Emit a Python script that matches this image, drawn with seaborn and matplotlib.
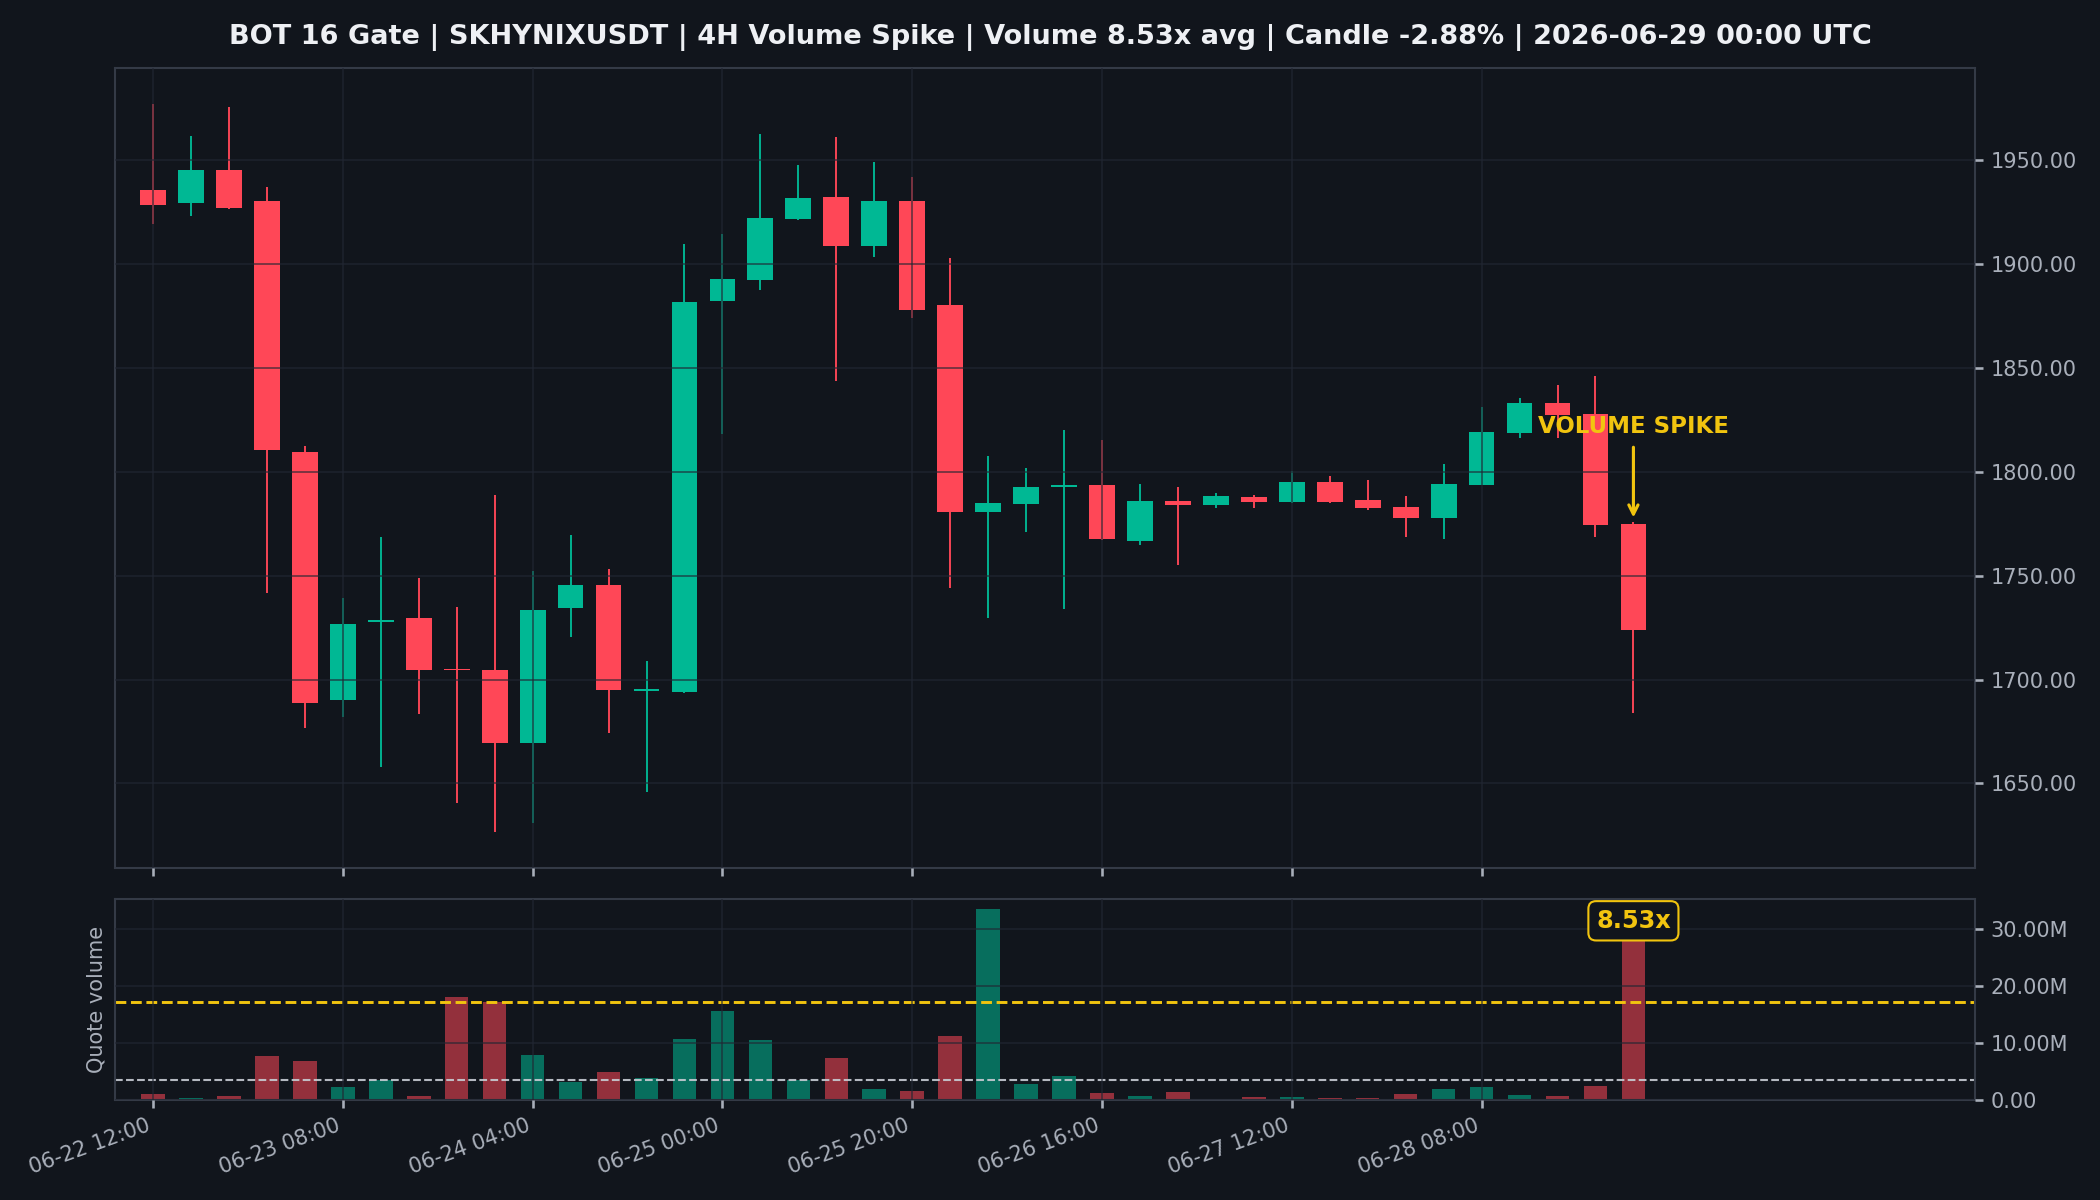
"""Gate 4H volume spike chart for SKHYNIXUSDT"""

import numpy as np
import pandas as pd
import matplotlib
matplotlib.use('Agg')
import matplotlib.pyplot as plt
import seaborn as sns

# --- data ---
opens = [1935.4, 1929.1, 1945.0, 1930.1, 1809.7, 1690.0, 1727.6, 1729.8, 1705.0, 1704.4,
         1669.4, 1734.4, 1745.7, 1694.5, 1694.1, 1882.2, 1892.3, 1921.8, 1932.1, 1908.7,
         1930.1, 1880.2, 1780.7, 1784.5, 1792.6, 1793.8, 1766.6, 1785.8, 1784.0, 1788.0,
         1785.5, 1795.1, 1786.3, 1783.0, 1777.7, 1793.6, 1818.8, 1833.1, 1827.8, 1775.0]
highs = [1976.7, 1961.3, 1975.4, 1936.9, 1812.2, 1739.4, 1768.4, 1749.0, 1735.1, 1789.0,
         1752.0, 1769.4, 1753.0, 1708.7, 1909.4, 1914.2, 1962.6, 1947.5, 1961.1, 1949.0,
         1941.7, 1902.6, 1807.4, 1801.6, 1820.0, 1815.0, 1794.3, 1792.8, 1789.5, 1789.0,
         1800.4, 1798.1, 1795.8, 1788.5, 1803.9, 1831.1, 1835.4, 1841.7, 1846.0, 1775.9]
lows = [1919.3, 1922.8, 1926.6, 1741.7, 1676.7, 1682.0, 1657.8, 1683.5, 1640.4, 1626.6,
        1630.8, 1720.5, 1674.2, 1645.7, 1693.6, 1818.3, 1887.5, 1921.3, 1843.7, 1903.4,
        1873.7, 1744.2, 1729.6, 1770.9, 1734.1, 1767.0, 1764.9, 1755.3, 1782.5, 1782.5,
        1785.0, 1785.0, 1781.5, 1768.4, 1767.6, 1793.4, 1816.2, 1816.2, 1768.4, 1683.7]
closes = [1928.1, 1945.0, 1927.1, 1810.2, 1688.8, 1726.6, 1728.3, 1704.6, 1704.4, 1669.4,
          1733.6, 1745.7, 1694.8, 1695.2, 1881.5, 1892.6, 1922.0, 1931.6, 1908.7, 1930.1,
          1878.0, 1780.7, 1785.0, 1792.6, 1793.0, 1767.4, 1785.8, 1784.0, 1788.5, 1785.5,
          1794.8, 1785.5, 1782.5, 1777.7, 1794.3, 1819.3, 1833.1, 1827.3, 1774.2, 1723.9]
# quote volume, millions
volumes = [1.0, 0.23, 0.65, 7.7, 6.8, 2.2, 3.4, 0.65, 18.1, 17.2,
           7.9, 3.1, 4.9, 3.8, 10.7, 15.6, 10.5, 3.4, 7.3, 1.9,
           1.5, 11.2, 33.6, 2.8, 4.2, 1.2, 0.65, 1.35, 0.1, 0.47,
           0.47, 0.3, 0.3, 1.0, 1.9, 2.2, 0.8, 0.65, 2.4, 29.4]
vol_avg = 3.45
spike_threshold = 17.25
spike_mult = 8.53
candle_pct = -2.88
start_time = '2026-06-22 12:00'

BG = '#11151c'
UP = '#00b894'
DOWN = '#ff4757'
YELLOW = '#f1c40f'
GRID = '#222733'
SPINE = '#343a46'
TXT = '#a9afba'

sns.set_theme(style='dark', rc={
    'figure.facecolor': BG,
    'axes.facecolor': BG,
    'axes.edgecolor': SPINE,
    'grid.color': GRID,
    'xtick.color': TXT,
    'ytick.color': TXT,
    'axes.labelcolor': TXT,
    'text.color': '#e8ebf0',
})
plt.rcParams['font.family'] = ['DejaVu Sans']

df = pd.DataFrame({'open': opens, 'high': highs, 'low': lows,
                   'close': closes, 'volume': volumes})
df['idx'] = np.arange(len(df))
df['time'] = pd.date_range(start_time, periods=len(df), freq='4h')
df['dir'] = np.where(df['close'] >= df['open'], 'up', 'down')
n = len(df)
last = n - 1

fig = plt.figure(figsize=(14, 8), dpi=150)
gs = fig.add_gridspec(2, 1, height_ratios=[4, 1], hspace=0.062,
                      left=0.0548, right=0.9405, top=0.9433, bottom=0.0837)
ax = fig.add_subplot(gs[0])
axv = fig.add_subplot(gs[1], sharex=ax)

# --- candles ---
colors = [UP if d == 'up' else DOWN for d in df['dir']]
ax.vlines(df['idx'], df['low'], df['high'], colors=colors, linewidth=0.9, zorder=1)
body_lo = df[['open', 'close']].min(axis=1)
body_h = (df['close'] - df['open']).abs().clip(lower=0.8)
ax.bar(df['idx'], body_h, bottom=body_lo, width=0.68, color=colors, linewidth=0, zorder=1)
ax.margins(x=0, y=0.05)
ax.set_axisbelow(False)
ax.grid(True, color=GRID, linewidth=0.8, alpha=0.7)

ax.annotate('VOLUME SPIKE', xy=(last, df['high'][last]), xytext=(0, 40),
            textcoords='offset points', ha='center', va='bottom',
            color=YELLOW, fontsize=11, fontweight='bold',
            arrowprops=dict(arrowstyle='->', color=YELLOW, lw=1.5))

# --- volume ---
sns.barplot(data=df, x='idx', y='volume', hue='dir', palette={'up': UP, 'down': DOWN},
            native_scale=True, dodge=False, width=0.62, alpha=0.55, saturation=1,
            errorbar=None, legend=False, linewidth=0, ax=axv)
axv.axhline(spike_threshold, color=YELLOW, linestyle='--', linewidth=1.4)
axv.axhline(vol_avg, color='#c8ccd4', linestyle='--', linewidth=1.0, alpha=0.9)
axv.text(last, volumes[last], f'{spike_mult:.2f}x', ha='center', va='bottom',
         color=YELLOW, fontsize=11.5, fontweight='bold', zorder=5,
         bbox=dict(boxstyle='round,pad=0.32', facecolor=BG, edgecolor=YELLOW, linewidth=1))
axv.set_ylim(0, max(volumes) * 1.05)
axv.set_yticks([0, 10, 20, 30])
axv.set_yticklabels(['0.00', '10.00M', '20.00M', '30.00M'])
axv.set_ylabel('Quote volume', fontsize=10)
axv.set_xlabel('')
axv.set_axisbelow(False)
axv.grid(True, color=GRID, linewidth=0.8, alpha=0.7)

# --- axes cosmetics ---
tick_pos = list(range(0, n, 5))
ax.set_xlim(-1, n + 8)
ax.set_yticks(np.arange(1650, 1951, 50))
ax.yaxis.set_major_formatter(plt.FuncFormatter(lambda v, p: f'{v:.2f}'))
axv.set_xticks(tick_pos)
axv.set_xticklabels([df['time'][i].strftime('%m-%d %H:%M') for i in tick_pos],
                    rotation=20, ha='right', fontsize=10)
ax.tick_params(axis='x', labelbottom=False)
for a in (ax, axv):
    a.yaxis.tick_right()
    a.tick_params(axis='y', labelsize=10, length=4, color=TXT, left=False, right=True)
    a.tick_params(axis='x', length=4, color=TXT, bottom=True)
    for s in a.spines.values():
        s.set_color(SPINE)
        s.set_linewidth(1)

fig.suptitle(f'BOT 16 Gate | SKHYNIXUSDT | 4H Volume Spike | Volume {spike_mult:.2f}x avg | '
             f'Candle {candle_pct:.2f}% | {df["time"][last]:%Y-%m-%d %H:%M} UTC',
             y=0.980, fontsize=13, fontweight='bold', color='#eef0f4')

fig.savefig('out.png', dpi=150, facecolor=BG)
